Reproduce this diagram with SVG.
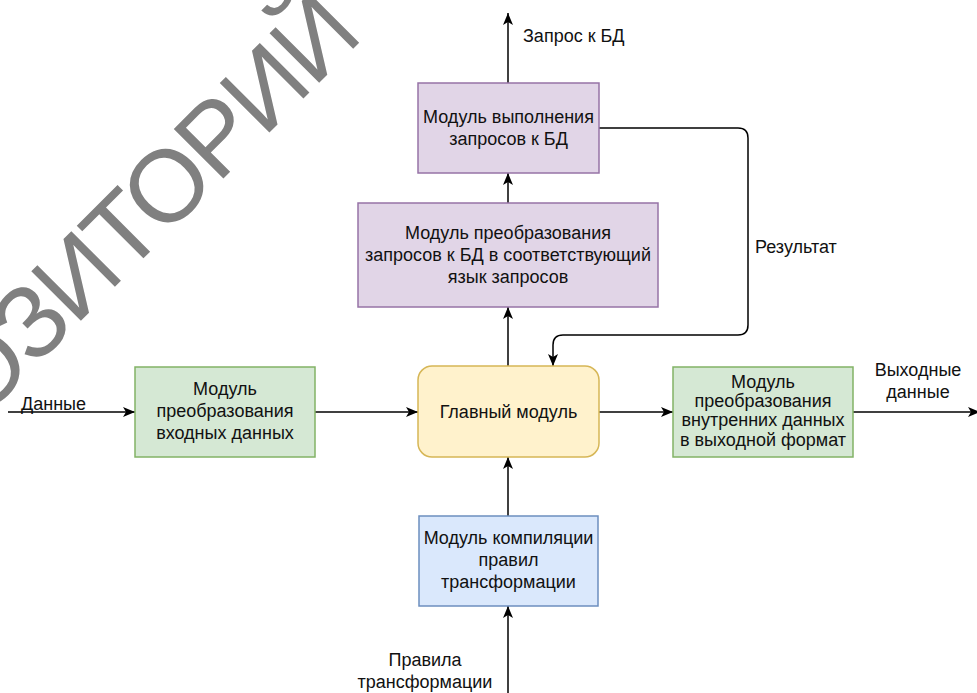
<svg xmlns="http://www.w3.org/2000/svg" width="977" height="693" viewBox="0 0 977 693">
<style>
text{font-family:"Liberation Sans",Arial,sans-serif;font-size:18px;fill:#111}
.c{text-anchor:middle}
.box{stroke-width:1.5}
.purple{fill:#e1d5e7;stroke:#9673a6}
.green{fill:#d5e8d4;stroke:#82b366}
.yellow{fill:#fff2cc;stroke:#d6b656}
.blue{fill:#dae8fc;stroke:#6c8ebf}
.edge{fill:none;stroke:#000;stroke-width:1.5;marker-end:url(#arr)}
.wm{font-size:102px;fill:#808080;text-anchor:middle;letter-spacing:-3px}
</style>
<defs>
<marker id="arr" markerUnits="userSpaceOnUse" viewBox="0 0 12 12" refX="12" refY="6" markerWidth="12" markerHeight="12" orient="auto">
<path d="M0,1 L12,6 L0,11 L3,6 Z" fill="#000"/>
</marker>
</defs>
<rect width="977" height="693" fill="#fff"/>
<text class="wm" transform="translate(75,276) rotate(-45)" dy="36">РЕПОЗИТОРИЙ</text>
<g id="connectors">
<path class="edge" d="M508,83 L508,13"/>
<path class="edge" d="M508,203 L508,173"/>
<path class="edge" d="M508,366 L508,307"/>
<path class="edge" d="M599,128 L738,128 Q748,128 748,138 L748,325 Q748,335 738,335 L563,335 Q553,335 553,345 L553,366"/>
<path class="edge" d="M8,412 L135,412"/>
<path class="edge" d="M315,412 L418,412"/>
<path class="edge" d="M599,412 L673,412"/>
<path class="edge" d="M853,412 L980,412"/>
<path class="edge" d="M508,516 L508,457"/>
<path class="edge" d="M508,693 L508,606"/>
<text x="523" y="42">Запрос к БД</text>
<text x="755" y="253">Результат</text>
<text x="21" y="410">Данные</text>
<text class="c" x="918" y="376">Выходные</text>
<text class="c" x="918" y="398">данные</text>
<text class="c" x="425" y="666">Правила</text>
<text class="c" x="425" y="688">трансформации</text>
</g>
<g id="exec">
<rect class="box purple" x="418" y="83" width="181" height="90"/>
<text class="c" x="508.5" y="123">Модуль выполнения</text>
<text class="c" x="508.5" y="145">запросов к БД</text>
</g>
<g id="translate">
<rect class="box purple" x="358" y="203" width="300" height="104"/>
<text class="c" x="508" y="239">Модуль преобразования</text>
<text class="c" x="508" y="261">запросов к БД в соответствующий</text>
<text class="c" x="508" y="283">язык запросов</text>
</g>
<g id="main">
<rect class="box yellow" x="418" y="366" width="181" height="91" rx="14"/>
<text class="c" x="508.5" y="418">Главный модуль</text>
</g>
<g id="input">
<rect class="box green" x="135" y="367" width="180" height="90"/>
<text class="c" x="225" y="395">Модуль</text>
<text class="c" x="225" y="417">преобразования</text>
<text class="c" x="225" y="439">входных данных</text>
</g>
<g id="output">
<rect class="box green" x="673" y="367" width="180" height="90"/>
<text class="c" x="763" y="388">Модуль</text>
<text class="c" x="763" y="407">преобразования</text>
<text class="c" x="763" y="426">внутренних данных</text>
<text class="c" x="763" y="446">в выходной формат</text>
</g>
<g id="compile">
<rect class="box blue" x="419" y="516" width="179" height="90"/>
<text class="c" x="508.5" y="544">Модуль компиляции</text>
<text class="c" x="508.5" y="566">правил</text>
<text class="c" x="508.5" y="588">трансформации</text>
</g>
</svg>
